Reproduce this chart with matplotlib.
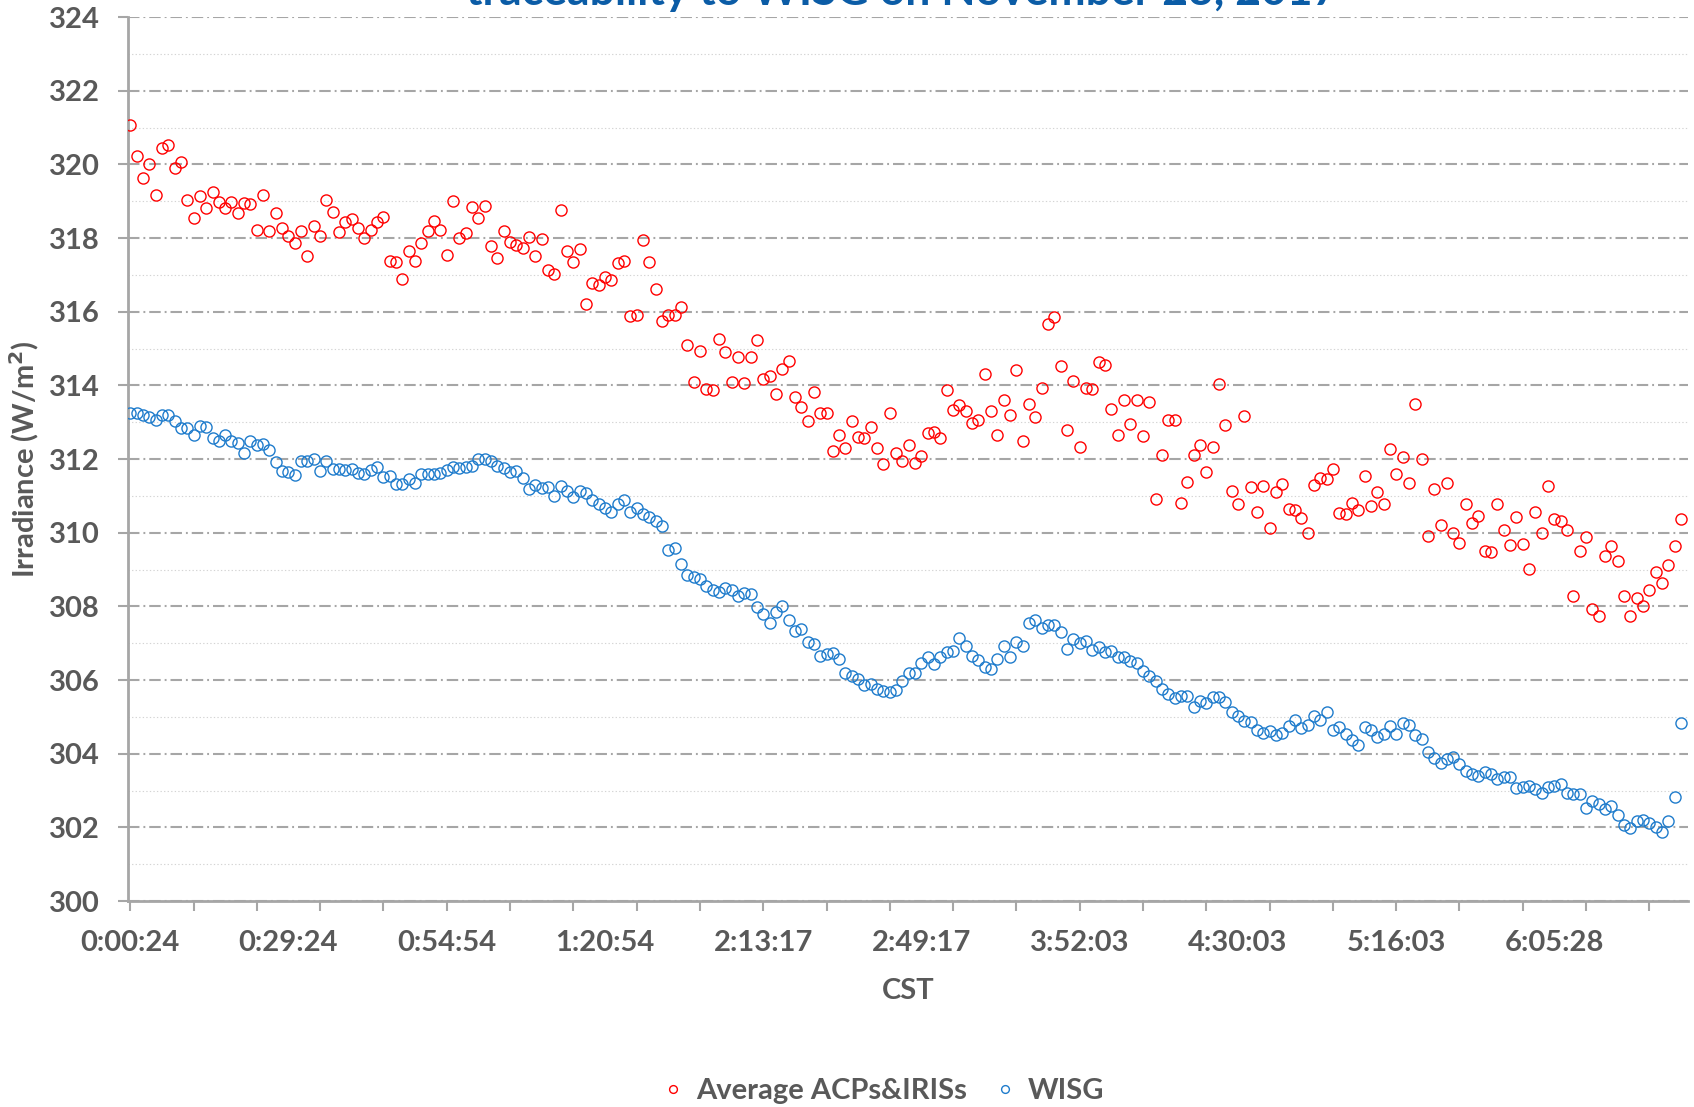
import numpy as np
import matplotlib
matplotlib.use('Agg')
import matplotlib.pyplot as plt
from matplotlib.ticker import MultipleLocator, FixedLocator, FixedFormatter

# Average of ACPs & IRISs (W/m2), one value per time step
avg_acp_iris = [
    321.08, 320.22, 319.63, 320.00, 319.18, 320.43, 320.52, 319.91, 320.07, 319.03,
    318.55, 319.14, 318.82, 319.26, 318.98, 318.82, 318.98, 318.69, 318.96, 318.93,
    318.23, 319.18, 318.19, 318.67, 318.27, 318.05, 317.86, 318.18, 317.50, 318.33,
    318.05, 319.03, 318.70, 318.15, 318.43, 318.52, 318.28, 317.99, 318.22, 318.43,
    318.57, 317.38, 317.35, 316.88, 317.65, 317.38, 317.86, 318.19, 318.46, 318.23,
    317.55, 319.01, 317.99, 318.13, 318.83, 318.55, 318.87, 317.78, 317.46, 318.18,
    317.89, 317.82, 317.73, 318.03, 317.52, 317.96, 317.12, 317.02, 318.75, 317.66,
    317.34, 317.70, 316.20, 316.77, 316.73, 316.95, 316.85, 317.32, 317.38, 315.89,
    315.90, 317.95, 317.34, 316.61, 315.74, 315.92, 315.92, 316.14, 315.10, 314.08,
    314.94, 313.89, 313.86, 315.25, 314.90, 314.08, 314.76, 314.05, 314.78, 315.23,
    314.17, 314.24, 313.77, 314.43, 314.66, 313.68, 313.40, 313.04, 313.82, 313.24,
    313.24, 312.22, 312.64, 312.29, 313.03, 312.59, 312.57, 312.86, 312.30, 311.87,
    313.24, 312.15, 311.95, 312.37, 311.90, 312.09, 312.70, 312.73, 312.58, 313.86,
    313.33, 313.46, 313.30, 312.99, 313.06, 314.32, 313.30, 312.64, 313.61, 313.20,
    314.41, 312.49, 313.50, 313.14, 313.94, 315.67, 315.86, 314.52, 312.78, 314.11,
    312.32, 313.93, 313.90, 314.62, 314.54, 313.37, 312.66, 313.60, 312.96, 313.60,
    312.63, 313.54, 310.92, 312.10, 313.07, 313.07, 310.81, 311.38, 312.11, 312.37,
    311.66, 312.32, 314.03, 312.92, 311.14, 310.78, 313.16, 311.23, 310.55, 311.28,
    310.14, 311.10, 311.31, 310.64, 310.61, 310.40, 309.98, 311.29, 311.49, 311.45,
    311.74, 310.54, 310.51, 310.81, 310.61, 311.54, 310.73, 311.10, 310.78, 312.26,
    311.60, 312.05, 311.35, 313.48, 312.00, 309.90, 311.19, 310.22, 311.35, 309.98,
    309.71, 310.78, 310.25, 310.44, 309.51, 309.47, 310.78, 310.06, 309.66, 310.43,
    309.70, 309.01, 310.56, 309.98, 311.26, 310.36, 310.33, 310.06, 308.27, 309.49,
    309.87, 307.93, 307.75, 309.36, 309.64, 309.23, 308.29, 307.75, 308.22, 308.02,
    308.43, 308.93, 308.63, 309.12, 309.65, 310.38,
]

# WISG reference (W/m2)
wisg = [
    313.26, 313.24, 313.19, 313.14, 313.05, 313.19, 313.19, 313.03, 312.84, 312.83,
    312.66, 312.90, 312.86, 312.58, 312.48, 312.65, 312.48, 312.44, 312.17, 312.49,
    312.39, 312.42, 312.25, 311.92, 311.67, 311.65, 311.56, 311.94, 311.95, 312.01,
    311.68, 311.95, 311.74, 311.72, 311.69, 311.72, 311.61, 311.59, 311.70, 311.79,
    311.52, 311.53, 311.31, 311.31, 311.46, 311.36, 311.58, 311.59, 311.58, 311.61,
    311.70, 311.77, 311.76, 311.77, 311.80, 312.00, 312.00, 311.94, 311.80, 311.76,
    311.65, 311.67, 311.48, 311.19, 311.30, 311.22, 311.23, 311.00, 311.27, 311.13,
    310.96, 311.12, 311.08, 310.90, 310.78, 310.67, 310.57, 310.78, 310.90, 310.56,
    310.68, 310.52, 310.43, 310.32, 310.17, 309.54, 309.58, 309.15, 308.84, 308.80,
    308.74, 308.54, 308.43, 308.39, 308.49, 308.43, 308.29, 308.36, 308.34, 307.98,
    307.79, 307.55, 307.85, 308.02, 307.63, 307.32, 307.38, 307.04, 306.98, 306.65,
    306.71, 306.74, 306.57, 306.19, 306.12, 306.02, 305.86, 305.90, 305.76, 305.69,
    305.68, 305.73, 305.98, 306.19, 306.19, 306.47, 306.63, 306.43, 306.62, 306.75,
    306.80, 307.13, 306.91, 306.64, 306.55, 306.36, 306.29, 306.57, 306.91, 306.62,
    307.02, 306.91, 307.55, 307.62, 307.42, 307.48, 307.48, 307.30, 306.84, 307.10,
    307.00, 307.05, 306.81, 306.89, 306.75, 306.79, 306.62, 306.63, 306.51, 306.46,
    306.25, 306.12, 305.96, 305.76, 305.63, 305.52, 305.57, 305.56, 305.26, 305.44,
    305.38, 305.54, 305.53, 305.39, 305.14, 305.01, 304.90, 304.85, 304.63, 304.57,
    304.62, 304.51, 304.55, 304.76, 304.91, 304.71, 304.79, 305.03, 304.91, 305.12,
    304.65, 304.72, 304.53, 304.38, 304.24, 304.73, 304.63, 304.46, 304.53, 304.76,
    304.54, 304.84, 304.78, 304.52, 304.41, 304.05, 303.89, 303.74, 303.86, 303.90,
    303.73, 303.53, 303.44, 303.39, 303.51, 303.44, 303.32, 303.36, 303.38, 303.06,
    303.10, 303.13, 303.04, 302.93, 303.10, 303.11, 303.18, 302.92, 302.91, 302.91,
    302.53, 302.71, 302.63, 302.49, 302.58, 302.34, 302.05, 301.98, 302.16, 302.21,
    302.13, 302.00, 301.86, 302.16, 302.82, 304.82,
]

# category labels shown on the time axis (every 25th sample)
time_labels = ['0:00:24', '0:29:24', '0:54:54', '1:20:54', '2:13:17',
               '2:49:17', '3:52:03', '4:30:03', '5:16:03', '6:05:28']
label_every = 25
tick_every = 10

TXT = '#595959'
GRID = '#A6A6A6'
RED = '#FF0000'
BLUE = '#1F7CCC'

plt.rcParams.update({
    'font.family': ['Lato', 'DejaVu Sans'],
    'font.weight': 'bold',
    'text.color': TXT,
    'axes.labelcolor': TXT,
    'xtick.color': GRID,
    'ytick.color': GRID,
    'xtick.labelcolor': TXT,
    'ytick.labelcolor': TXT,
})

fig = plt.figure(figsize=(16.94, 11.07), dpi=100)
ax = fig.add_axes([128 / 1694, 1 - 901 / 1107, 1560 / 1694, 884 / 1107])

x = np.arange(len(avg_acp_iris))
ax.plot(x, avg_acp_iris, linestyle='none', marker='o', markersize=8,
        markerfacecolor='none', markeredgecolor=RED, markeredgewidth=1.0,
        label='Average ACPs&IRISs', zorder=3)
ax.plot(x, wisg, linestyle='none', marker='o', markersize=8,
        markerfacecolor='none', markeredgecolor=BLUE, markeredgewidth=1.0,
        label='WISG', zorder=3)

ax.set_ylim(300, 324)
ax.set_xlim(-0.35, len(x) + 0.1)

# y axis: labelled grid every 2, dotted grid in between
ax.yaxis.set_major_locator(MultipleLocator(2))
ax.yaxis.set_minor_locator(MultipleLocator(1))
ax.grid(axis='y', which='major', color=GRID, linewidth=1.5,
        linestyle=(0, (5.5, 1.9, 0.9, 1.9)))
ax.grid(axis='y', which='minor', color='#D4D4D4', linewidth=0.8,
        linestyle=(0, (1.2, 2.0)))
ax.set_axisbelow(True)
ax.tick_params(axis='y', which='major', length=7, width=1.5, pad=13, labelsize=21)
ax.tick_params(axis='y', which='minor', length=0)

# x axis: tick marks every 10 samples, labels every 25 samples
ax.xaxis.remove_overlapping_locs = False
ax.xaxis.set_major_locator(MultipleLocator(tick_every))
ax.xaxis.set_major_formatter(plt.NullFormatter())
label_pos = [i * label_every for i in range(len(time_labels))]
ax.xaxis.set_minor_locator(FixedLocator(label_pos))
ax.xaxis.set_minor_formatter(FixedFormatter(time_labels))
ax.tick_params(axis='x', which='major', length=7, width=1.5)
ax.tick_params(axis='x', which='minor', length=0, pad=21, labelsize=21)

for side in ['top', 'right']:
    ax.spines[side].set_visible(False)
for side in ['left', 'bottom']:
    ax.spines[side].set_color(GRID)
    ax.spines[side].set_linewidth(2)

ax.set_xlabel('CST', fontsize=21, fontweight='bold', va='top')
ax.xaxis.set_label_coords(0.5, -0.087)
ax.set_ylabel('Irradiance (W/m$^\\mathbf{2}$)', fontsize=21, fontweight='bold')
ax.yaxis.set_label_coords(-0.056, 0.5)

# title sits partly above the canvas, as in the original export
fig.text(902 / 1694, 1 - 5 / 1107, 'traceability to WISG on November 23, 2017',
         ha='center', va='baseline', fontsize=32, fontweight='bold', color='#0B5CA6')

fig.legend(loc='center', bbox_to_anchor=(0.522, 0.0145), ncol=2, frameon=False,
           fontsize=21, markerscale=0.7, handlelength=0.6, handletextpad=0.5,
           columnspacing=1.0)

fig.savefig('out.png', dpi=100)
